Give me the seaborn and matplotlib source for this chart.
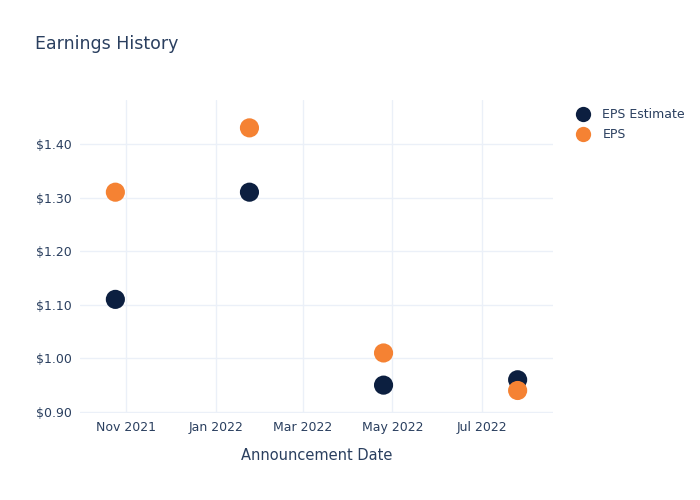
import matplotlib
matplotlib.use("Agg")
import matplotlib.pyplot as plt
import matplotlib.dates as mdates
import seaborn as sns
import pandas as pd
import numpy as np
from matplotlib.ticker import FuncFormatter
from matplotlib.lines import Line2D

dates = ["2021-10-25", "2022-01-24", "2022-04-25", "2022-07-25"]
eps_estimate = [1.11, 1.31, 0.95, 0.96]
eps_actual = [1.31, 1.43, 1.01, 0.94]
series_names = ["EPS Estimate", "EPS"]
colors = {"EPS Estimate": "#0c1f40", "EPS": "#f58233"}

df = pd.DataFrame({
    "date": pd.to_datetime(dates * 2),
    "value": eps_estimate + eps_actual,
    "series": [series_names[0]] * 4 + [series_names[1]] * 4,
})

sns.set_theme(style="white")
plt.rcParams["font.family"] = ["DejaVu Sans"]
text_color = "#2a3f5f"
grid_color = "#ebf0f8"

fig = plt.figure(figsize=(7, 5), dpi=100)
ax = fig.add_axes([80 / 700, (500 - 413) / 500, (553 - 80) / 700, (413 - 100) / 500])

sns.scatterplot(data=df, x="date", y="value", hue="series", palette=colors,
                hue_order=series_names, s=190, edgecolor="none", ax=ax,
                legend=False, zorder=3)

ax.set_xlim(pd.Timestamp("2021-10-01"), pd.Timestamp("2022-08-18"))
ax.set_ylim(0.898, 1.482)
ax.set_yticks([0.9, 1.0, 1.1, 1.2, 1.3, 1.4])
ax.yaxis.set_major_formatter(FuncFormatter(lambda v, p: f"${v:.2f}"))
ticks = pd.to_datetime(["2021-11-01", "2022-01-01", "2022-03-01", "2022-05-01", "2022-07-01"])
ax.set_xticks(ticks)
ax.set_xticklabels([t.strftime("%b %Y") for t in ticks])

ax.grid(True, color=grid_color, linewidth=1, zorder=0)
for s in ax.spines.values():
    s.set_visible(False)
ax.tick_params(axis="both", length=0, labelsize=9, colors=text_color, pad=6)
ax.set_xlabel("Announcement Date", fontsize=10.5, color=text_color, labelpad=10)
ax.set_ylabel("")

fig.text(35 / 700, 1 - 44 / 500, "Earnings History", fontsize=12.5, color=text_color,
         va="center", ha="left")

handles = [Line2D([0], [0], marker="o", linestyle="", markersize=11,
                  markerfacecolor=colors[n], markeredgecolor="none", label=n)
           for n in series_names]
leg = fig.legend(handles=handles, loc="upper left", bbox_to_anchor=(570 / 700, 1 - 103 / 500),
                 frameon=False, fontsize=9, handletextpad=1.0, labelspacing=0.55,
                 borderaxespad=0, handlelength=1.2)
for t in leg.get_texts():
    t.set_color(text_color)

fig.savefig("out.png", dpi=100)
